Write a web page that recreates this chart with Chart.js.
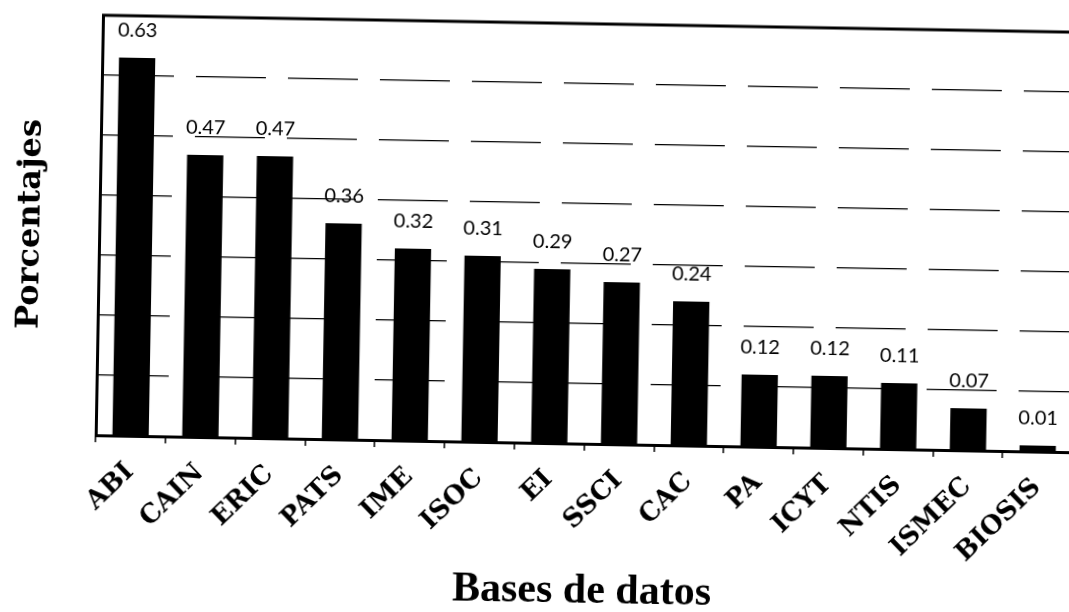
<!DOCTYPE html>
<html>
<head>
<meta charset="utf-8">
<script src="https://cdn.jsdelivr.net/npm/chart.js@4"></script>
<style>
  html, body { margin: 0; padding: 0; background: #fff; overflow: hidden; }
  #wrap {
    position: absolute; left: 0; top: 0;
    width: 1090px; height: 612px;
    transform: rotate(1deg);
  }
</style>
</head>
<body>
<div id="wrap"><canvas id="c"></canvas></div>
<script>
  // bases de datos y porcentajes
  const bases = ["ABI", "CAIN", "ERIC", "PATS", "IME", "ISOC", "EI",
    "SSCI", "CAC", "PA", "ICYT", "NTIS", "ISMEC", "BIOSIS"];
  const porcentajes = [0.63, 0.47, 0.47, 0.36, 0.32, 0.31, 0.29,
    0.27, 0.24, 0.12, 0.12, 0.11, 0.07, 0.01];
  const yMin = 0;
  const yMax = 0.7;
  const yStep = 0.1;

  // etiquetas de valor sobre cada barra + borde superior
  const valueLabels = {
    id: "valueLabels",
    afterDatasetsDraw(chart) {
      const ctx = chart.ctx;
      const meta = chart.getDatasetMeta(0);
      ctx.save();
      ctx.font = "20px Lato, 'Open Sans', sans-serif";
      ctx.fillStyle = "#000";
      ctx.textAlign = "center";
      ctx.textBaseline = "middle";
      meta.data.forEach((bar, i) => {
        ctx.fillText(porcentajes[i].toFixed(2), bar.x, bar.y - 27);
      });
      const a = chart.chartArea;
      ctx.strokeStyle = "#000";
      ctx.lineWidth = 3;
      ctx.beginPath();
      ctx.moveTo(a.left - 1, a.top);
      ctx.lineTo(a.right, a.top);
      ctx.stroke();
      ctx.restore();
    },
  };

  new Chart(document.getElementById("c"), {
    type: "bar",
    data: {
      labels: bases,
      datasets: [{
        data: porcentajes,
        backgroundColor: "#000",
        borderWidth: 0,
        barPercentage: 0.52,
        categoryPercentage: 1,
      }],
    },
    options: {
      responsive: true,
      maintainAspectRatio: false,
      animation: false,
      layout: { padding: { left: 0, right: 15, top: 23, bottom: 0 } },
      plugins: {
        legend: { display: false },
        tooltip: { enabled: false },
      },
      scales: {
        x: {
          grid: {
            offset: true,
            drawOnChartArea: false,
            drawTicks: true,
            tickLength: 7,
            color: "#000",
            lineWidth: 1.5,
          },
          border: { display: true, color: "#000", width: 3 },
          ticks: {
            color: "#000",
            font: { family: "'DejaVu Serif', serif", weight: "bold", size: 26 },
            minRotation: 45,
            maxRotation: 45,
            padding: 14,
            autoSkip: false,
          },
          title: {
            display: true,
            text: "Bases de datos",
            color: "#000",
            font: { family: "'Liberation Serif', serif", weight: "bold", size: 42, lineHeight: 1 },
            padding: { top: 0, bottom: 0 },
          },
          afterFit(scale) { scale.height = 169; },
        },
        y: {
          min: yMin,
          max: yMax,
          ticks: { display: false, stepSize: yStep },
          grid: {
            drawTicks: false,
            color: "#000",
            lineWidth: 1.3,
          },
          border: { display: true, color: "#000", width: 3, dash: [70, 22] },
          title: {
            display: true,
            text: "Porcentajes",
            color: "#000",
            font: { family: "'DejaVu Serif', serif", weight: "bold", size: 32 },
            padding: { top: 10, bottom: 0 },
          },
          afterFit(scale) { scale.width = 98; },
        },
      },
    },
    plugins: [valueLabels],
  });
</script>
</body>
</html>
